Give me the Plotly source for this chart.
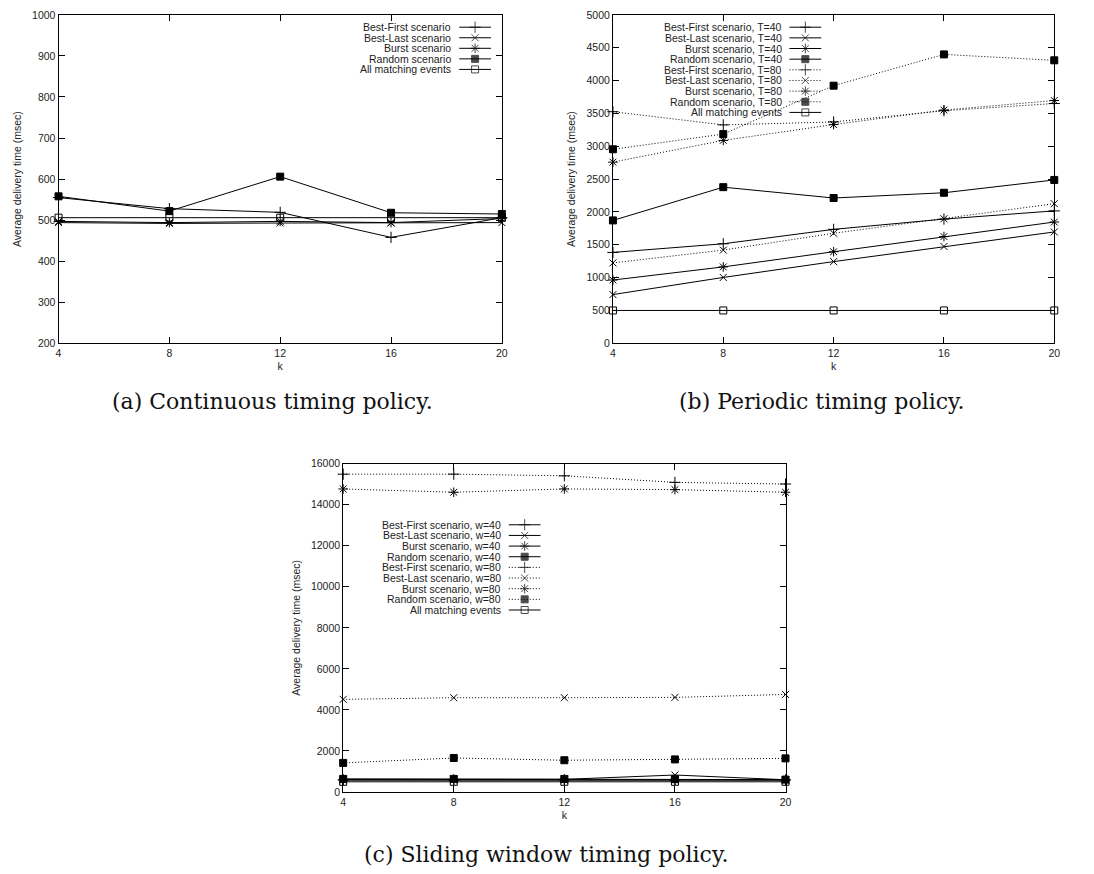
import plotly.graph_objects as go

W, H = 1094, 874

k = [4, 8, 12, 16, 20]

# (a) Continuous timing policy
a_best_first = [555, 528, 519, 458, 506]
a_best_last = [494, 492, 493, 493, 494]
a_burst = [497, 494, 497, 494, 504]
a_random = [558, 522, 606, 518, 515]
a_all = [506, 506, 506, 505, 506]

# (b) Periodic timing policy
b_bf40 = [1384, 1515, 1735, 1891, 2016]
b_bl40 = [742, 1003, 1244, 1474, 1695]
b_bu40 = [963, 1163, 1394, 1625, 1846]
b_ra40 = [1871, 2377, 2212, 2292, 2487]
b_bf80 = [3526, 3325, 3370, 3541, 3651]
b_bl80 = [1224, 1419, 1675, 1896, 2126]
b_bu80 = [2758, 3089, 3330, 3551, 3696]
b_ra80 = [2954, 3185, 3922, 4398, 4308]
b_all = [500, 500, 500, 500, 500]

# (c) Sliding window timing policy
c_bf40 = [600, 600, 600, 600, 590]
c_bl40 = [620, 620, 620, 830, 600]
c_bu40 = [580, 580, 580, 580, 580]
c_ra40 = [640, 640, 640, 630, 608]
c_bf80 = [15487, 15487, 15407, 15087, 15006]
c_bl80 = [4516, 4596, 4596, 4612, 4756]
c_bu80 = [14766, 14606, 14766, 14734, 14606]
c_ra80 = [1420, 1660, 1550, 1590, 1640]
c_all = [500, 500, 500, 500, 500]

names_a = ["Best-First scenario", "Best-Last scenario", "Burst scenario",
           "Random scenario", "All matching events"]
names_b = ["Best-First scenario, T=40", "Best-Last scenario, T=40", "Burst scenario, T=40",
           "Random scenario, T=40", "Best-First scenario, T=80", "Best-Last scenario, T=80",
           "Burst scenario, T=80", "Random scenario, T=80", "All matching events"]
names_c = ["Best-First scenario, w=40", "Best-Last scenario, w=40", "Burst scenario, w=40",
           "Random scenario, w=40", "Best-First scenario, w=80", "Best-Last scenario, w=80",
           "Burst scenario, w=80", "Random scenario, w=80", "All matching events"]

captions = ["(a) Continuous timing policy.", "(b) Periodic timing policy.",
            "(c) Sliding window timing policy."]

# marker styles (gnuplot point types)
SYM = {
    "bf": dict(symbol="cross-thin", size=8),
    "bl": dict(symbol="x-thin", size=7),
    "bu": dict(symbol="asterisk", size=8),
    "ra": dict(symbol="square", size=7),
    "all": dict(symbol="square-open", size=7),
}

INK = "#000000"
TXT = "#222222"
FONT = "Liberation Sans, Arial, sans-serif"
FS = 10.5
DOT = "1px,2px"

fig = go.Figure()


def add_series(y, kind, dash, xa, ya):
    s = SYM[kind]
    fig.add_trace(go.Scatter(
        x=k, y=y, mode="lines+markers", xaxis=xa, yaxis=ya, showlegend=False,
        cliponaxis=False,
        line=dict(color=INK, width=1, dash=dash),
        marker=dict(symbol=s["symbol"], size=s["size"], color=INK,
                    line=dict(color=INK, width=1)),
        hoverinfo="x+y",
    ))


# panel a
for y, kd in zip([a_best_first, a_best_last, a_burst, a_random, a_all],
                 ["bf", "bl", "bu", "ra", "all"]):
    add_series(y, kd, "solid", "x", "y")

# panel b
b_series = [b_bf40, b_bl40, b_bu40, b_ra40, b_bf80, b_bl80, b_bu80, b_ra80, b_all]
kinds9 = ["bf", "bl", "bu", "ra", "bf", "bl", "bu", "ra", "all"]
dash9 = ["solid"] * 4 + [DOT] * 4 + ["solid"]
for y, kd, ds in zip(b_series, kinds9, dash9):
    add_series(y, kd, ds, "x2", "y2")

# panel c
c_series = [c_bf40, c_bl40, c_bu40, c_ra40, c_bf80, c_bl80, c_bu80, c_ra80, c_all]
for y, kd, ds in zip(c_series, kinds9, dash9):
    add_series(y, kd, ds, "x3", "y3")

# ---- gnuplot-style keys (text right-aligned, sample on the right) in pixel overlay axis ----
annotations = []


def add_key(names, kinds, dashes, text_right, y_top, step):
    for i, (nm, kd, ds) in enumerate(zip(names, kinds, dashes)):
        yy = y_top + i * step
        annotations.append(dict(
            x=text_right, y=yy, xref="x4", yref="y4", text=nm, showarrow=False,
            xanchor="right", yanchor="middle", font=dict(family=FONT, size=FS, color=TXT)))
        x0 = text_right + 6
        x1 = text_right + 38
        s = SYM[kd]
        fig.add_trace(go.Scatter(
            x=[x0, (x0 + x1) / 2, x1], y=[yy, yy, yy], mode="lines+markers",
            xaxis="x4", yaxis="y4", showlegend=False, hoverinfo="skip", cliponaxis=False,
            line=dict(color=INK, width=1, dash=ds),
            marker=dict(symbol=s["symbol"], size=[0, s["size"], 0], color=INK,
                        line=dict(color=INK, width=1)),
        ))


add_key(names_a, ["bf", "bl", "bu", "ra", "all"], ["solid"] * 5, 454, 21.5, 10.7)
add_key(names_b, kinds9, dash9, 787, 21.5, 10.8)
add_key(names_c, kinds9, dash9, 504, 526, 10.8)

# captions
cap_font = dict(family="DejaVu Serif, serif", size=22, color="#111111")
for txt, cx, cy in zip(captions, [272, 826, 548], [401, 401, 860]):
    annotations.append(dict(x=cx, y=cy, xref="x4", yref="y4", text=txt, showarrow=False,
                            xanchor="center", yanchor="middle", font=cap_font))


def px_dom_x(a, b):
    return [a / W, b / W]


def px_dom_y(top, bottom):
    return [(H - bottom) / H, (H - top) / H]


def xax(dom, anchor):
    return dict(domain=dom, anchor=anchor, range=[4, 20], tickvals=k, ticks="inside",
                ticklen=6, tickcolor=INK, showline=True, linecolor=INK, linewidth=1,
                mirror="allticks", showgrid=False, zeroline=False,
                tickfont=dict(family=FONT, size=FS, color=TXT),
                title=dict(text="k", standoff=4, font=dict(family=FONT, size=FS, color=TXT)))


def yax(dom, anchor, rng, dtick):
    return dict(domain=dom, anchor=anchor, range=rng, dtick=dtick, tick0=0, ticks="inside",
                ticklen=6, tickcolor=INK, showline=True, linecolor=INK, linewidth=1,
                mirror="allticks", showgrid=False, zeroline=False, tickformat="d",
                tickfont=dict(family=FONT, size=FS, color=TXT),
                title=dict(text="Average delivery time (msec)", standoff=8,
                           font=dict(family=FONT, size=FS, color=TXT)))


fig.update_layout(
    width=W, height=H, margin=dict(l=0, r=0, t=0, b=0),
    paper_bgcolor="white", plot_bgcolor="rgba(0,0,0,0)",
    showlegend=False,
    xaxis=xax(px_dom_x(56, 503), "y"),
    yaxis=yax(px_dom_y(9, 342), "x", [200, 1000], 100),
    xaxis2=xax(px_dom_x(615, 1060), "y2"),
    yaxis2=yax(px_dom_y(9, 342), "x2", [0, 5000], 500),
    xaxis3=xax(px_dom_x(343, 789), "y3"),
    yaxis3=yax(px_dom_y(464, 797), "x3", [0, 16000], 2000),
    xaxis4=dict(domain=[0, 1], anchor="y4", range=[0, W], visible=False, fixedrange=True),
    yaxis4=dict(domain=[0, 1], anchor="x4", range=[H, 0], visible=False, fixedrange=True),
    annotations=annotations,
)

fig.write_html("out.html")
